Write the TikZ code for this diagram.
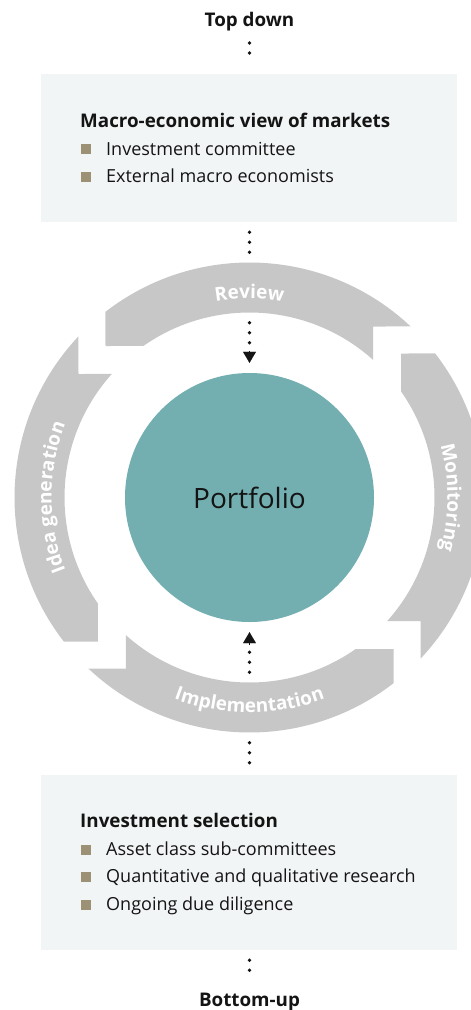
\documentclass[tikz,border=0pt]{standalone}
\usepackage{fontspec}
\setmainfont{Open Sans}
\usetikzlibrary{arrows.meta,decorations.text,calc}
\definecolor{ringgrey}{HTML}{C6C7C6}
\definecolor{tealc}{HTML}{73AFB0}
\definecolor{boxbg}{HTML}{F2F5F6}
\definecolor{bulletc}{HTML}{9C9075}
\definecolor{ink}{HTML}{141414}
\newcommand{\bodyfont}{\fontsize{18}{22}\selectfont}
\newcommand{\boldfont}{\bfseries\fontsize{18.8}{22}\selectfont}
\newcommand{\ringfont}{\bfseries\fontsize{19}{19}\selectfont}
\begin{document}
\begin{tikzpicture}[x=1pt,y=1pt,
  txt/.style={inner sep=0pt, anchor=base west, font=\bodyfont, text=ink},
  ttl/.style={txt, font=\boldfont},
  headtxt/.style={inner sep=0pt, anchor=base, font=\boldfont, text=ink},
  panel/.style={fill=boxbg, draw=none, minimum width=416pt, inner sep=0pt},
  bul/.style={fill=bulletc, draw=none, minimum size=10pt, inner sep=0pt},
  dotline/.style={line width=3.8pt, line cap=round, dash pattern=on 0pt off 10pt, draw=ink},
  tipline/.style={draw=ink, line width=0.1pt, -{Triangle[width=13pt,length=11pt]}},
  seg/.style={fill=ringgrey},
  ringlabel/.style={decorate, decoration={text along path, text align=center, text color=white, text={|\ringfont|#1}}}
]
\useasboundingbox (0,0) rectangle (471,-1010);

% top
\node[headtxt] (td) at (249.5,-26.5) {Top down};
\node[panel, minimum height=148pt] (topbox) at (249,-148) {};
\node[ttl] (t1) at (80,-127.3) {Macro-economic view of markets};
\node[bul] (b11) at (86,-149) {};
\node[txt] (l11) at (106,-155) {Investment committee};
\node[bul] (b12) at (86,-177) {};
\node[txt] (l12) at (106,-182.7) {External macro economists};

% ring
\node[circle, fill=tealc, minimum size=249pt, inner sep=0pt, font=\fontsize{28}{28}\selectfont, text=ink] (port) at (249.5,-497.5) {Portfolio};
\begin{scope}[shift={(249.5,-497.5)}]
  \foreach \r in {0,-90,-180,-270}{
    \fill[seg, rotate=\r] (127.8:235) arc[start angle=127.8, end angle=46.7, radius=235]
      -- (123.5,171) -- (48.1:185) arc[start angle=48.1, end angle=125, radius=185]
      -- (-144,151.5) -- cycle;
  }
  \path[ringlabel=Review] (130:199) arc[start angle=130, end angle=50, radius=199];
  \path[ringlabel=Monitoring] (45:198) arc[start angle=45, end angle=-45, radius=198];
  \path[ringlabel=Idea generation] (235:198) arc[start angle=235, end angle=125, radius=198];
  \path[ringlabel=Implementation] (215:215) arc[start angle=215, end angle=325, radius=215];
\end{scope}

% bottom
\node[panel, minimum height=175pt] (botbox) at (249,-862.5) {};
\node[ttl] (t2) at (80,-827.3) {Investment selection};
\node[bul] (b21) at (86,-849.5) {};
\node[txt] (l21) at (106,-855) {Asset class sub-committees};
\node[bul] (b22) at (86,-877) {};
\node[txt] (l22) at (106,-882.7) {Quantitative and qualitative research};
\node[bul] (b23) at (86,-904.5) {};
\node[txt] (l23) at (106,-910.5) {Ongoing due diligence};
\node[headtxt] (bu) at (249.5,-1006) {Bottom-up};

% dotted connectors
\draw[dotline] ($(td.base)+(0,-16.5)$) -- ($(topbox.north)+(0.5,11)$);
\draw[dotline] ($(topbox.south)+(0.5,-10)$) -- ++(0,-20.01);
\draw[dotline] ($(port.north)+(0,50)$) -- ++(0,-20.01);
\draw[tipline] ($(port.north)+(0,22)$) -- ($(port.north)+(0,10)$);
\draw[dotline] ($(port.south)+(0,-50)$) -- ++(0,20.01);
\draw[tipline] ($(port.south)+(0,-23)$) -- ($(port.south)+(0,-10)$);
\draw[dotline] ($(botbox.north)+(0.5,32)$) -- ++(0,-20.01);
\draw[dotline] ($(botbox.south)+(0.5,-10)$) -- ($(bu.base)+(0,26)$);
\end{tikzpicture}
\end{document}
